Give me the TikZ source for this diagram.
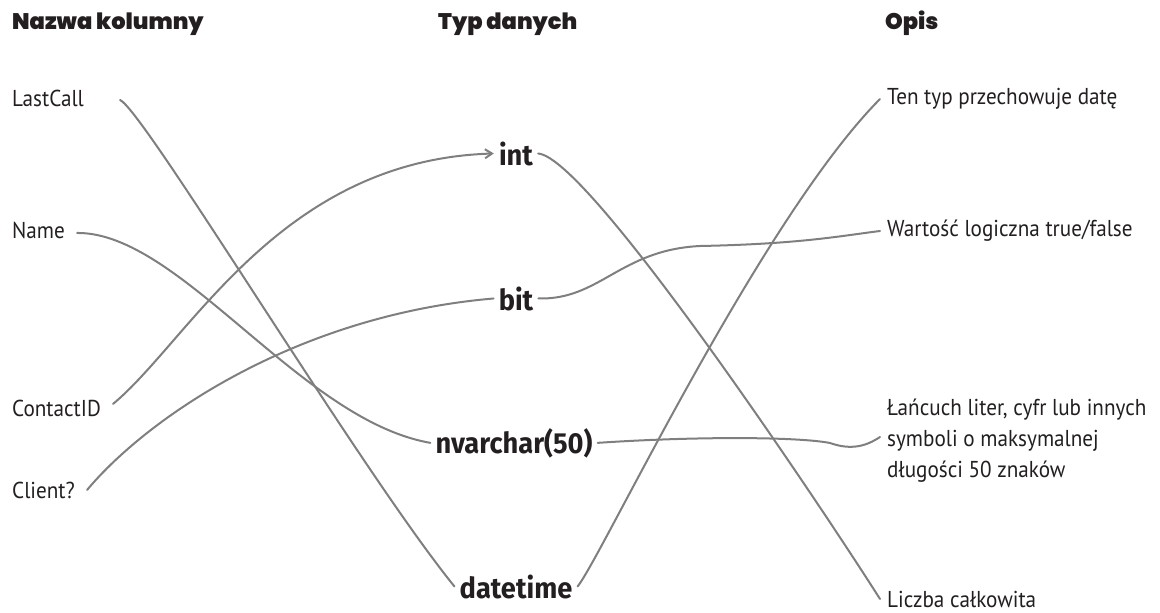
\documentclass[tikz,border=0pt]{standalone}
\usepackage{fontspec}
\setmainfont{PT Sans}[FakeStretch=0.92]
\newfontfamily\headfont{Poppins}[UprightFont=* Black]
\newfontfamily\typefont{Fira Sans}[FakeStretch=0.94]
\usetikzlibrary{arrows.meta}

\definecolor{ink}{HTML}{231F20}
\definecolor{wire}{HTML}{7F7F7F}

\begin{document}
\begin{tikzpicture}[
  x=1pt, y=-1pt,
  head/.style={anchor=base west, inner sep=0pt, text=ink, font=\headfont\fontsize{22.5}{26}\selectfont},
  colname/.style={anchor=base west, inner ysep=2pt, inner xsep=12pt, text=ink, font=\fontsize{23}{26}\selectfont},
  dtype/.style={anchor=base, inner ysep=2pt, inner xsep=5pt, text=ink, font=\typefont\bfseries\fontsize{29}{32}\selectfont},
  descr/.style={anchor=west, inner xsep=7pt, text=ink, align=left, font=\fontsize{23}{31}\selectfont},
  link/.style={draw=wire, line width=2pt, line cap=round}
]
\useasboundingbox (0,0) rectangle (1160,613);

% --- Naglowki ---
\node[head] (hcol) at (12,29) {Nazwa kolumny};
\node[head] (htype) at (438,29) {Typ danych};
\node[head] (hdesc) at (885,29) {Opis};

% --- Kolumny ---
\node[colname] (lastcall) at (0,106) {LastCall};
\node[colname] (name) at (0,238) {Name};
\node[colname] (contactid) at (0,416) {ContactID};
\node[colname] (client) at (0,498) {Client?};

% --- Typy danych ---
\node[dtype] (tint) at (516,165) {int};
\node[dtype] (tbit) at (516,310) {bit};
\node[dtype] (tnvarchar) at (514,453) {nvarchar(50)};
\node[dtype] (tdatetime) at (516,598) {datetime};

% --- Opisy ---
\node[descr] (ddate) at (880,99) {Ten typ przechowuje datę};
\node[descr] (dbool) at (880,231) {Wartość logiczna true/false};
\node[descr] (dstring) at (880,441) {Łańcuch liter, cyfr lub innych\\symboli o maksymalnej\\długości 50 znaków};
\node[descr] (dint) at (880,599) {Liczba całkowita};

% --- Polaczenia ---
\draw[link] ([xshift=24pt,yshift=-2pt]lastcall.east) .. controls (145,112) and (360,470) .. (tdatetime.west);
\draw[link] ([yshift=-3pt]name.east) .. controls (180,232) and (300,420) .. (tnvarchar.west);
\draw[link, -{Straight Barb[length=7pt,width=9pt]}] ([yshift=4pt]contactid.east) .. controls (190,340) and (280,160) .. (tint.west);
\draw[link] (client.east) .. controls (150,415) and (300,315) .. (tbit.west);

\draw[link] (tint.east) .. controls (590,158) and (830,520) .. (dint.west);
\draw[link] (tbit.east) .. controls (600,300) and (620,250) .. (700,246) .. controls (800,244) and (840,236) .. (dbool.west);
\draw[link] (tnvarchar.east) .. controls (700,436) and (800,437) .. (830,443) .. controls (850,450) and (865,447) .. ([yshift=4pt]dstring.west);
\draw[link] (tdatetime.east) .. controls (600,560) and (760,220) .. (ddate.west);

\end{tikzpicture}
\end{document}
